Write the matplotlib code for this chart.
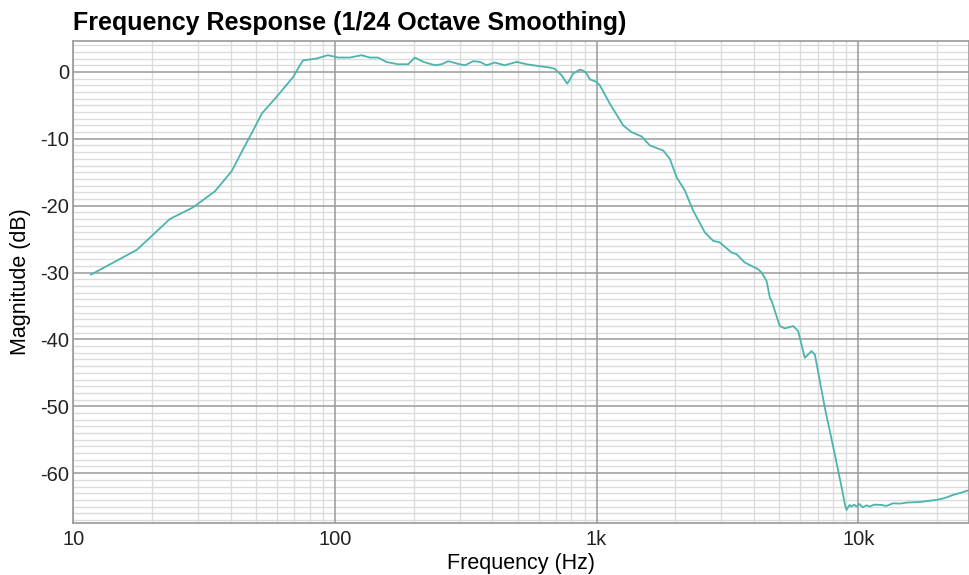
import numpy as np
import matplotlib
matplotlib.use("Agg")
import matplotlib.pyplot as plt
from matplotlib.ticker import FixedLocator, FuncFormatter, NullLocator

# 1/24-octave smoothed magnitude response, frequency in Hz, magnitude in dB
freq_hz = [
    11.7, 17.5, 23.4, 28.7, 34.8, 40.3, 44.4, 48.7, 52.6, 59.8,
    69.3, 73.5, 75.7, 80, 85, 94, 103, 114, 126.5, 136,
    146, 157, 174, 190.6, 202, 218, 241, 256, 271, 300,
    314, 338, 358, 380, 408, 446, 495, 540, 607, 663,
    690, 735, 772, 790, 813, 864, 894, 916, 942, 1000,
    1029, 1124, 1264, 1360, 1486, 1599, 1797, 1906, 2023, 2176,
    2340, 2593, 2790, 2957, 3279, 3428, 3686, 4146, 4271, 4465,
    4594, 4667, 5015, 5242, 5642, 5894, 6249, 6630, 6827, 7457,
    8144, 8757, 8885, 9017, 9264, 9427, 9650, 9850, 10100, 10400,
    10757, 11075, 11500, 12280, 12800, 13590, 14420, 15300, 16220, 17300,
    18500, 19900, 21500, 23040, 24800, 26680,
]
mag_db = [
    -30.3, -26.6, -22.0, -20.25, -17.85, -14.85, -11.7, -8.75, -6.2, -3.75,
    -0.75, 1.0, 1.75, 1.85, 2.0, 2.5, 2.15, 2.15, 2.5, 2.15,
    2.15, 1.5, 1.15, 1.15, 2.15, 1.5, 1.0, 1.15, 1.6, 1.15,
    1.0, 1.6, 1.5, 1.0, 1.4, 1.0, 1.5, 1.15, 0.85, 0.65,
    0.5, -0.5, -1.75, -1.2, -0.25, 0.35, 0.15, -0.25, -1.1, -1.5,
    -2.0, -4.75, -8.0, -9.0, -9.65, -11.0, -11.75, -13.0, -15.75, -17.75,
    -20.75, -24.0, -25.25, -25.5, -27.0, -27.25, -28.5, -29.5, -30.0, -31.25,
    -33.75, -34.25, -38.0, -38.35, -38.0, -38.75, -42.75, -41.75, -42.25, -50.25,
    -57.25, -63.25, -64.6, -65.5, -64.75, -65.0, -64.7, -65.0, -64.6, -65.1,
    -64.8, -65.0, -64.7, -64.75, -64.9, -64.5, -64.55, -64.4, -64.35, -64.3,
    -64.15, -64.0, -63.7, -63.25, -62.9, -62.5,
]

x_ticks = [10, 100, 1000, 10000]
x_tick_labels = ["10", "100", "1k", "10k"]
y_ticks = [0, -10, -20, -30, -40, -50, -60]

plt.rcParams["font.family"] = ["Liberation Sans", "DejaVu Sans"]
plt.rcParams["axes.unicode_minus"] = False

fig = plt.figure(figsize=(9.7, 5.75), dpi=100)
ax = fig.add_axes([0.0755, 0.091, 0.923, 0.838])

ax.plot(freq_hz, mag_db, color="#4bb5ad", linewidth=1.3, zorder=3)

ax.set_xscale("log")
ax.set_xlim(10, 26400)
ax.set_ylim(-67.4, 4.65)

ax.xaxis.set_major_locator(FixedLocator(x_ticks))
ax.xaxis.set_minor_locator(NullLocator())
ax.xaxis.set_major_formatter(FuncFormatter(
    lambda v, _: x_tick_labels[x_ticks.index(v)] if v in x_ticks else ""))
ax.yaxis.set_major_locator(FixedLocator(y_ticks))

# grid drawn by hand so the decade / 10 dB lines sit on top of the fine ones
minor_x = [m * 10 ** d for d in range(1, 5) for m in range(2, 10)]
for x in minor_x:
    ax.axvline(x, color="#dcdcdc", linewidth=1.0, zorder=1)
for y in range(-67, 5):
    if y % 10:
        ax.axhline(y, color="#dcdcdc", linewidth=1.0, zorder=1)
for x in x_ticks:
    ax.axvline(x, color="#9a9a9a", linewidth=1.1, zorder=2)
for y in y_ticks:
    ax.axhline(y, color="#9a9a9a", linewidth=1.1, zorder=2)

ax.tick_params(which="both", length=0)
ax.tick_params(axis="y", pad=3, labelsize=14.5, labelcolor="#222222")
ax.tick_params(axis="x", pad=5, labelsize=14.5, labelcolor="#222222")

for s in ax.spines.values():
    s.set_color("#9a9a9a")
    s.set_linewidth(1.2)
    s.set_zorder(4)

ax.set_xlabel("Frequency (Hz)", fontsize=15.5, labelpad=3)
ax.set_ylabel("Magnitude (dB)", fontsize=15.5)
ax.yaxis.set_label_coords(-0.047, 0.5)

fig.text(0.0755, 0.960, "Frequency Response (1/24 Octave Smoothing)",
         fontsize=18, fontweight="bold", ha="left", va="center")

fig.savefig("out.png", dpi=100)
